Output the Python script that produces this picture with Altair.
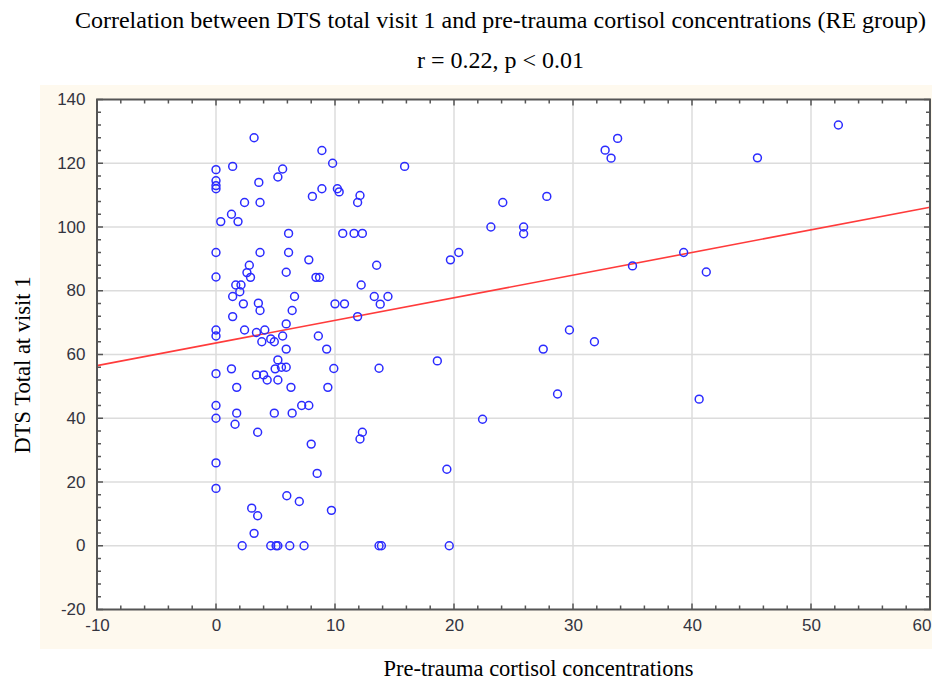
import altair as alt
import pandas as pd

# Pre-trauma cortisol concentrations (x) and DTS total at visit 1 (y)
cortisol = [
    0, 0, 0, 0, 0, 0, 0, 0, 0, 0, 0, 0, 0,
    3.2, 8.9, 9.8, 1.4, 5.6, 5.2, 3.6, 2.4, 3.7, 8.1, 8.9, 10.2, 10.35, 12.1, 11.9, 15.85,
    1.3, 0.4, 1.85, 6.1, 10.65, 11.6, 12.3, 3.7, 6.1, 7.8, 2.8, 13.5, 19.7, 20.4,
    2.6, 2.9, 5.9, 8.4, 8.7, 1.66, 2.1, 2.0, 1.4, 6.6, 2.3, 3.56, 3.7, 6.4, 10.0, 10.8,
    1.4, 5.9, 2.4, 3.4, 4.1, 5.6, 3.85, 4.6, 4.9, 8.6, 5.9, 9.3, 5.2, 4.97, 5.5, 5.9,
    3.4, 4.0, 4.3, 5.2, 9.9, 1.3, 1.74, 6.3, 9.4, 7.2, 7.8, 1.74, 4.9, 6.4, 1.6, 3.5,
    12.2, 13.3, 14.45, 13.8, 11.9, 13.7, 18.6, 12.3, 12.1,
    8.0, 8.5, 5.95, 7.0, 9.7, 3.0, 3.5, 3.2, 2.2, 4.6, 5.05, 5.2, 6.2, 7.4, 13.7, 13.9,
    19.6, 19.4, 22.4,
    52.3, 45.5, 33.75, 32.7, 33.2, 24.1, 27.8, 23.1, 25.85, 25.85, 35.0, 39.3, 41.2,
    29.7, 31.8, 27.5, 28.7, 40.6,
]
dts = [
    118, 114.5, 113, 112, 92, 84.3, 67.7, 65.8, 54, 44, 40, 26, 18,
    128, 124, 120, 119, 118.2, 115.7, 114, 107.7, 107.7, 109.6, 112, 112, 111, 109.9, 107.7, 119,
    104, 101.7, 101.7, 98, 98, 98, 98, 92, 92, 89.7, 88, 88, 89.7, 92,
    85.7, 84.2, 85.8, 84.2, 84.2, 81.8, 81.8, 79.7, 78.2, 78.2, 75.9, 76.1, 73.8, 73.8, 75.9, 75.9,
    71.9, 69.6, 67.7, 66.9, 67.7, 65.8, 64, 64.9, 64, 65.8, 61.7, 61.7, 58.3, 55.5, 56, 56,
    53.6, 53.6, 52, 52, 55.6, 55.5, 49.7, 49.7, 49.7, 44, 44, 41.6, 41.6, 41.6, 38.1, 35.6,
    81.8, 78.2, 78.2, 75.8, 71.9, 55.7, 58, 35.6, 33.5,
    31.9, 22.7, 15.7, 13.9, 11.1, 11.8, 9.4, 3.9, 0, 0, 0, 0, 0, 0, 0, 0,
    0, 24, 39.7,
    132, 121.7, 127.8, 124.1, 121.6, 107.7, 109.6, 100, 100, 97.9, 87.8, 92, 85.9,
    67.7, 64, 61.7, 47.6, 46,
]

# fitted regression line end points
line_x = [-10, 60]
line_y = [56.5, 106.2]

x_major = list(range(-10, 61, 10))
y_major = list(range(-20, 141, 20))
x_minor = [v for v in range(-10, 61, 2) if v % 10 != 0]
y_minor = [v for v in range(-20, 141, 4) if v % 20 != 0]
x_grid = [v for v in x_major if -10 < v < 60]
y_grid = [v for v in y_major if -20 < v < 140]

W, H = 833, 510
LABEL_FONT = "Liberation Sans Narrow, Liberation Sans"
SERIF = "Liberation Serif"
LABEL_EXPR = "datum.value < 0 ? '-' + abs(datum.value) : '' + datum.value"

xs = alt.Scale(domain=[-10, 60], nice=False, zero=False)
ys = alt.Scale(domain=[-20, 140], nice=False, zero=False)

x_axis = alt.Axis(values=x_major, title="Pre-trauma cortisol concentrations", grid=False,
                  domain=False, ticks=False, labelFont=LABEL_FONT, labelFontSize=17,
                  labelColor="#34343f", labelPadding=8, labelFlush=False, labelOverlap=False,
                  labelExpr=LABEL_EXPR,
                  labelAlign=alt.condition("datum.value == 60", alt.value("right"), alt.value("center")),
                  labelOffset=alt.condition("datum.value == 60", alt.value(1), alt.value(0)),
                  titleFont=SERIF, titleFontSize=22.5, titleFontWeight="normal", titleColor="black",
                  titleX=441, titleY=66, titleBaseline="alphabetic", zindex=1)
y_axis = alt.Axis(values=y_major, title="DTS Total at visit 1", grid=False,
                  domain=False, ticks=False, labelFont=LABEL_FONT, labelFontSize=17,
                  labelColor="#34343f", labelPadding=12, labelFlush=False, labelOverlap=False,
                  labelExpr=LABEL_EXPR,
                  titleFont=SERIF, titleFontSize=22.5, titleFontWeight="normal", titleColor="black",
                  titleX=-75, titleY=265, titleBaseline="middle", titleAngle=270, zindex=1)


def X(field):
    return alt.X(field, type="quantitative", scale=xs, axis=x_axis)


def Y(field):
    return alt.Y(field, type="quantitative", scale=ys, axis=y_axis)


one = pd.DataFrame({"a": [0]})
pts = pd.DataFrame({"cortisol": cortisol, "dts": dts})
reg = pd.DataFrame({"cortisol": line_x, "dts": line_y})

bg = alt.Chart(one).mark_rect(color="#FEF9EE").encode(
    x=alt.value(-57), x2=alt.value(W + 12), y=alt.value(-14.5), y2=alt.value(H + 39.5))
plotbg = alt.Chart(one).mark_rect(color="white").encode(
    x=alt.value(0), x2=alt.value(W), y=alt.value(0), y2=alt.value(H))

gx = alt.Chart(pd.DataFrame({"cortisol": x_grid})).mark_rule(
    color="#dcdcdc", strokeWidth=1.5).encode(x=X("cortisol"))
gy = alt.Chart(pd.DataFrame({"dts": y_grid})).mark_rule(
    color="#dcdcdc", strokeWidth=1.5).encode(y=Y("dts"))

TICK_C = "#555555"


def xticks(vals, ln):
    d = pd.DataFrame({"cortisol": vals})
    b = alt.Chart(d).mark_rule(color=TICK_C, strokeWidth=1.5).encode(
        x=X("cortisol"), y=alt.value(H), y2=alt.value(H - ln))
    t = alt.Chart(d).mark_rule(color=TICK_C, strokeWidth=1.5).encode(
        x=X("cortisol"), y=alt.value(0), y2=alt.value(ln))
    return [b, t]


def yticks(vals, ln):
    d = pd.DataFrame({"dts": vals})
    l = alt.Chart(d).mark_rule(color=TICK_C, strokeWidth=1.5).encode(
        y=Y("dts"), x=alt.value(0), x2=alt.value(ln))
    r = alt.Chart(d).mark_rule(color=TICK_C, strokeWidth=1.5).encode(
        y=Y("dts"), x=alt.value(W), x2=alt.value(W - ln))
    return [l, r]


ticks = xticks(x_major, 6) + xticks(x_minor, 4) + yticks(y_major, 6) + yticks(y_minor, 4)

line = alt.Chart(reg).mark_line(color="#ff3b3b", strokeWidth=1.6).encode(
    x=X("cortisol"), y=Y("dts"))

points = alt.Chart(pts).mark_point(shape="circle", filled=False, color="#2b2bff",
                                   size=62, strokeWidth=1.5, opacity=1).encode(
    x=X("cortisol"), y=Y("dts"))

frame = alt.Chart(one).mark_rect(fillOpacity=0, stroke="#555555", strokeWidth=2).encode(
    x=alt.value(0), x2=alt.value(W), y=alt.value(0), y2=alt.value(H))

chart = alt.layer(bg, plotbg, gx, gy, *ticks, line, points, frame).properties(
    width=W, height=H,
    title=alt.Title(
        text="Correlation between DTS total visit 1 and pre-trauma cortisol concentrations (RE group)",
        subtitle="r = 0.22, p < 0.01",
        font=SERIF, fontSize=24, fontWeight="normal", color="black",
        subtitleFont=SERIF, subtitleFontSize=24, subtitleColor="black",
        subtitlePadding=16, offset=12, anchor="middle", dx=-13),
    autosize=alt.AutoSizeParams(type="none"),
    padding={"left": 89, "top": 91.5, "right": 2, "bottom": 71},
).configure(background="white").configure_view(stroke=None)

chart.save("out.html", embed_options={"renderer": "svg", "actions": False})
